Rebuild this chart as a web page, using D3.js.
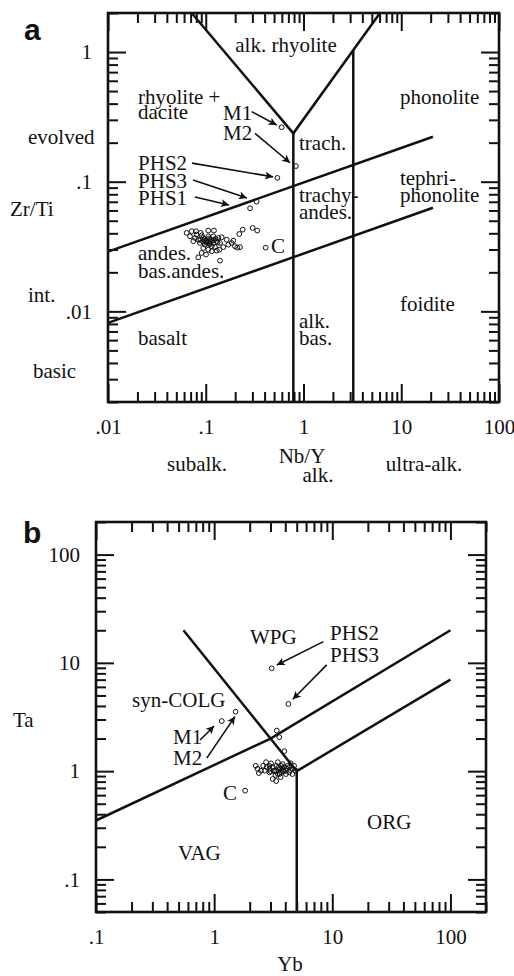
<!DOCTYPE html>
<html>
<head>
<meta charset="utf-8">
<script src="https://cdn.jsdelivr.net/npm/d3@7"></script>
<style>
  body { margin: 0; background: #fff; }
  text { font-family: "Liberation Serif", "Times New Roman", serif; font-size: 21px; fill: #111; }
  .panel-letter { font-family: "Liberation Sans", Arial, sans-serif; font-weight: bold; font-size: 30px; }
</style>
</head>
<body>
<svg id="chart" width="514" height="976"></svg>
<script>
// ---------- panel a : Nb/Y vs Zr/Ti ----------
const aXTicks = [0.01, 0.1, 1, 10, 100];
const aXTickLabels = [".01", ".1", "1", "10", "100"];
const aYTicks = [0.01, 0.1, 1];
const aYTickLabels = [".01", ".1", "1"];

const aFieldLines = [
  [[0.0718, 2], [0.787, 0.236], [6.06, 2]],
  [[0.787, 0.236], [0.787, 0.002]],
  [[3.23, 1.03], [3.23, 0.002]],
  [[0.01, 0.0289], [21.1, 0.222]],
  [[0.01, 0.00815], [21.1, 0.063]]
];

// samples [Nb/Y, Zr/Ti]
const aSamples = [
  [0.0638, 0.0403], [0.0718, 0.0415], [0.0794, 0.0415], [0.0888, 0.0403], [0.1062, 0.0420],
  [0.1214, 0.0420], [0.1456, 0.0373], [0.1637, 0.0357], [0.1914, 0.0351], [0.2203, 0.0395],
  [0.2388, 0.0427], [0.302, 0.0440], [0.3367, 0.0420], [0.069, 0.0379], [0.0776, 0.0368],
  [0.0839, 0.0357], [0.0944, 0.0368], [0.1023, 0.0348], [0.1105, 0.0357], [0.1195, 0.0337],
  [0.1294, 0.0348], [0.0873, 0.0337], [0.0983, 0.0327], [0.1151, 0.0318], [0.1399, 0.0337],
  [0.1512, 0.0313], [0.1702, 0.0327], [0.1842, 0.0337], [0.199, 0.0318], [0.224, 0.0313],
  [0.0746, 0.0348], [0.1062, 0.0379], [0.1195, 0.0379], [0.1343, 0.0368], [0.0805, 0.0391],
  [0.0909, 0.0386], [0.0983, 0.0351], [0.1087, 0.0331], [0.1244, 0.0313], [0.1377, 0.0299],
  [0.0944, 0.0308], [0.1062, 0.0299], [0.0839, 0.0261], [0.1007, 0.0274], [0.1151, 0.0291],
  [0.1399, 0.0246], [0.0909, 0.0282], [0.1294, 0.0294], [0.105, 0.034], [0.112, 0.0345],
  [0.098, 0.036], [0.108, 0.0365], [0.116, 0.035], [0.102, 0.0338], [0.094, 0.0345],
  [0.12, 0.0355], [0.126, 0.0362], [0.11, 0.033], [0.132, 0.034], [0.088, 0.0355],
  [0.210, 0.0310]
];

const aNamedIds = ["M1", "M2", "PHS2", "PHS3", "PHS1", "C"];
const aNamedNbY = [0.598, 0.837, 0.540, 0.332, 0.284, 0.41];
const aNamedZrTi = [0.263, 0.132, 0.107, 0.0702, 0.0624, 0.031];

// arrows [from, to] in data units
const aArrows = [
  [[0.295, 0.347], [0.532, 0.274]],
  [[0.319, 0.236], [0.728, 0.140]],
  [[0.0723, 0.139], [0.488, 0.109]],
  [[0.0741, 0.103], [0.264, 0.075]],
  [[0.0776, 0.0762], [0.173, 0.0662]]
];

const aFieldLabels = [
  ["alk. rhyolite", 0.662, 1.0, "middle"],
  ["rhyolite +", 0.0203, 0.397, "start"],
  ["dacite", 0.0203, 0.305, "start"],
  ["M1", 0.150, 0.299, "start"],
  ["M2", 0.150, 0.210, "start"],
  ["trach.", 0.90, 0.176, "start"],
  ["phonolite", 9.7, 0.397, "start"],
  ["PHS2", 0.0203, 0.123, "start"],
  ["PHS3", 0.0203, 0.0895, "start"],
  ["PHS1", 0.0203, 0.0662, "start"],
  ["tephri-", 9.7, 0.095, "start"],
  ["phonolite", 9.7, 0.0700, "start"],
  ["trachy-", 0.90, 0.0698, "start"],
  ["andes.", 0.90, 0.0516, "start"],
  ["andes.", 0.0203, 0.0249, "start"],
  ["bas.andes.", 0.0203, 0.0181, "start"],
  ["C", 0.466, 0.0282, "start"],
  ["foidite", 9.7, 0.0101, "start"],
  ["alk.", 0.90, 0.0075, "start"],
  ["bas.", 0.90, 0.00551, "start"],
  ["basalt", 0.0203, 0.00551, "start"]
];

// ---------- panel b : Yb vs Ta ----------
const bXTicks = [0.1, 1, 10, 100];
const bXTickLabels = [".1", "1", "10", "100"];
const bYTicks = [0.1, 1, 10, 100];
const bYTickLabels = [".1", "1", "10", "100"];

const bFieldLines = [
  [[0.55, 20], [3, 2], [5, 1]],
  [[5, 1], [5, 0.05]],
  [[5, 1], [100, 7]],
  [[0.1, 0.35], [3, 2], [100, 20]]
];

// samples [Yb, Ta]
const bSamples = [
  [2.25, 1.12], [2.33, 1.05], [2.39, 0.96], [2.49, 1.01], [2.75, 1.21], [2.78, 1.09],
  [2.68, 1.01], [2.94, 1.12], [3.03, 1.18], [3.13, 1.09], [3.24, 1.01], [3.35, 1.12],
  [3.46, 1.21], [3.57, 1.05], [3.68, 1.12], [3.80, 1.16], [3.92, 1.09], [4.05, 1.01],
  [4.18, 1.12], [4.31, 1.09], [4.45, 1.18], [4.60, 1.05], [4.75, 1.12], [4.90, 1.01],
  [4.05, 0.94], [3.13, 0.845], [3.35, 0.81], [2.94, 0.975], [3.68, 0.975], [4.60, 0.94],
  [3.46, 0.94], [4.31, 0.975], [3.35, 1.01], [3.80, 1.01], [3.57, 0.94], [2.94, 1.05],
  [3.2, 1.0], [3.5, 1.08], [3.9, 1.0], [3.7, 1.05], [4.1, 1.06], [3.0, 1.0],
  [4.4, 1.02], [3.3, 0.92], [3.65, 0.88], [2.6, 1.12],
  [3.39, 2.37], [3.56, 2.06], [3.93, 1.53]
];

const bNamedIds = ["PHS2", "PHS3", "M2", "M1", "C"];
const bNamedYb = [3.07, 4.25, 1.52, 1.16, 1.83];
const bNamedTa = [8.9, 4.17, 3.54, 2.90, 0.66];

const bArrows = [
  [[8.41, 15.7], [3.39, 9.57]],
  [[8.98, 9.57], [4.63, 4.61]],
  [[0.760, 1.94], [1.00, 2.61]],
  [[0.866, 1.32], [1.50, 3.19]]
];

const bFieldLabels = [
  ["WPG", 2.01, 14.9, "start"],
  ["PHS2", 9.58, 16.3, "start"],
  ["PHS3", 9.58, 10.2, "start"],
  ["syn-COLG", 0.202, 3.92, "start"],
  ["M1", 0.449, 1.78, "start"],
  ["M2", 0.449, 1.14, "start"],
  ["C", 1.19, 0.542, "start"],
  ["VAG", 0.494, 0.151, "start"],
  ["ORG", 19.7, 0.292, "start"]
];

const svg = d3.select("#chart");

svg.append("defs").append("marker")
  .attr("id", "arrowhead")
  .attr("viewBox", "0 0 10 10")
  .attr("refX", 10).attr("refY", 5)
  .attr("markerWidth", 10).attr("markerHeight", 8)
  .attr("markerUnits", "userSpaceOnUse")
  .attr("orient", "auto")
  .append("path")
  .attr("d", "M0,0 L10,5 L0,10 L2.5,5 Z")
  .attr("fill", "#111");

function minorTicks(domain) {
  let out = [];
  let lo = Math.floor(Math.log10(domain[0]));
  let hi = Math.ceil(Math.log10(domain[1]));
  for (let e = lo; e <= hi; e++) {
    for (let k = 2; k <= 9; k++) {
      let v = k * Math.pow(10, e);
      if (v >= domain[0] * 0.999 && v <= domain[1] * 1.001) out.push(+v.toPrecision(3));
    }
  }
  return out;
}

function drawPanel(p) {
  let g = svg.append("g");
  let x = d3.scaleLog().domain(p.xDomain).range([p.left, p.right]);
  let y = d3.scaleLog().domain(p.yDomain).range([p.bottom, p.top]);

  let xFmt = (d) => p.xLabels[p.xTicks.indexOf(d)];
  let yFmt = (d) => p.yLabels[p.yTicks.indexOf(d)];
  let xMinor = minorTicks(p.xDomain);
  let yMinor = minorTicks(p.yDomain);

  let axes = [
    [d3.axisBottom(x).tickValues(p.xTicks).tickSize(-18).tickPadding(17).tickFormat(xFmt), `translate(0,${p.bottom})`],
    [d3.axisBottom(x).tickValues(xMinor).tickSize(-10).tickFormat(""), `translate(0,${p.bottom})`],
    [d3.axisTop(x).tickValues(p.xTicks).tickSize(-18).tickFormat(""), `translate(0,${p.top})`],
    [d3.axisTop(x).tickValues(xMinor).tickSize(-10).tickFormat(""), `translate(0,${p.top})`],
    [d3.axisLeft(y).tickValues(p.yTicks).tickSize(-18).tickPadding(16).tickFormat(yFmt), `translate(${p.left},0)`],
    [d3.axisLeft(y).tickValues(yMinor).tickSize(-10).tickFormat(""), `translate(${p.left},0)`],
    [d3.axisRight(y).tickValues(p.yTicks).tickSize(-18).tickFormat(""), `translate(${p.right},0)`],
    [d3.axisRight(y).tickValues(yMinor).tickSize(-10).tickFormat(""), `translate(${p.right},0)`]
  ];
  axes.forEach(([ax, tr]) => {
    let ga = g.append("g").attr("transform", tr).call(ax);
    ga.attr("font-family", null).attr("font-size", null);
    ga.select(".domain").remove();
    ga.selectAll(".tick line").attr("stroke", "#111").attr("stroke-width", 2);
    ga.selectAll(".tick text").attr("fill", "#111");
  });

  g.append("rect")
    .attr("x", p.left).attr("y", p.top)
    .attr("width", p.right - p.left).attr("height", p.bottom - p.top)
    .attr("fill", "none").attr("stroke", "#111").attr("stroke-width", 2.6);

  let line = d3.line().x((d) => x(d[0])).y((d) => y(d[1]));
  g.selectAll("path.field").data(p.fieldLines).enter().append("path")
    .attr("class", "field")
    .attr("d", line)
    .attr("fill", "none").attr("stroke", "#111").attr("stroke-width", 2.5)
    .attr("stroke-linejoin", "miter");

  g.selectAll("line.arrow").data(p.arrows).enter().append("line")
    .attr("class", "arrow")
    .attr("x1", (d) => x(d[0][0])).attr("y1", (d) => y(d[0][1]))
    .attr("x2", (d) => x(d[1][0])).attr("y2", (d) => y(d[1][1]))
    .attr("stroke", "#111").attr("stroke-width", 1.6)
    .attr("marker-end", "url(#arrowhead)");

  let pts = p.samples.concat(p.named);
  g.selectAll("circle.sample").data(pts).enter().append("circle")
    .attr("class", "sample")
    .attr("cx", (d) => x(d[0])).attr("cy", (d) => y(d[1]))
    .attr("r", 2.4)
    .attr("fill", "none").attr("stroke", "#111").attr("stroke-width", 1);

  g.selectAll("text.field-label").data(p.fieldLabels).enter().append("text")
    .attr("class", "field-label")
    .attr("x", (d) => x(d[1])).attr("y", (d) => y(d[2]))
    .attr("text-anchor", (d) => d[3])
    .text((d) => d[0]);

  p.outer.forEach((o) => {
    g.append("text")
      .attr("class", o.cls || null)
      .attr("x", p.left + o.dx).attr("y", p.top + o.dy)
      .attr("text-anchor", o.anchor || "start")
      .text(o.text);
  });
}

drawPanel({
  left: 108, right: 499, top: 13, bottom: 402,
  xDomain: [0.01, 100], yDomain: [0.002, 2],
  xTicks: aXTicks, xLabels: aXTickLabels, yTicks: aYTicks, yLabels: aYTickLabels,
  fieldLines: aFieldLines,
  samples: aSamples,
  named: aNamedIds.map((id, i) => [aNamedNbY[i], aNamedZrTi[i]]),
  arrows: aArrows,
  fieldLabels: aFieldLabels,
  outer: [
    { text: "a", dx: -84, dy: 27, cls: "panel-letter" },
    { text: "evolved", dx: -80, dy: 131 },
    { text: "Zr/Ti", dx: -98, dy: 203 },
    { text: "int.", dx: -80, dy: 289 },
    { text: "basic", dx: -75, dy: 365 },
    { text: "subalk.", dx: 89, dy: 458, anchor: "middle" },
    { text: "Nb/Y", dx: 194, dy: 450, anchor: "middle" },
    { text: "alk.", dx: 210, dy: 469, anchor: "middle" },
    { text: "ultra-alk.", dx: 316, dy: 458, anchor: "middle" }
  ]
});

drawPanel({
  left: 96, right: 486, top: 522, bottom: 912,
  xDomain: [0.1, 200], yDomain: [0.05, 200],
  xTicks: bXTicks, xLabels: bXTickLabels, yTicks: bYTicks, yLabels: bYTickLabels,
  fieldLines: bFieldLines,
  samples: bSamples,
  named: bNamedIds.map((id, i) => [bNamedYb[i], bNamedTa[i]]),
  arrows: bArrows,
  fieldLabels: bFieldLabels,
  outer: [
    { text: "b", dx: -73, dy: 21, cls: "panel-letter" },
    { text: "Ta", dx: -83, dy: 205 },
    { text: "Yb", dx: 194, dy: 449, anchor: "middle" }
  ]
});
</script>
</body>
</html>
